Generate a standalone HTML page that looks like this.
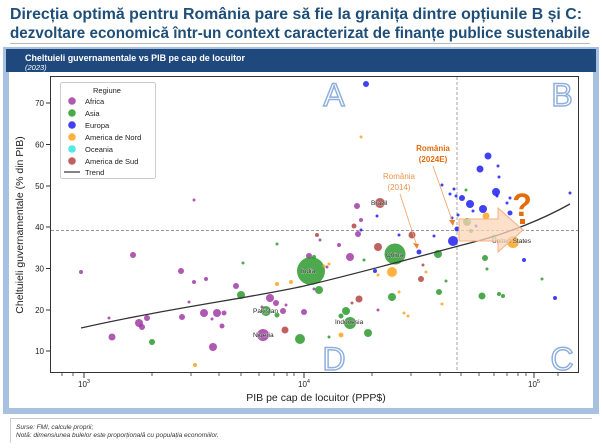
<!DOCTYPE html>
<html><head><meta charset="utf-8"><style>
body{margin:0;width:602px;height:443px;overflow:hidden;background:#fff;font-family:"Liberation Sans",sans-serif}
</style></head><body>
<svg width="602" height="443" xmlns="http://www.w3.org/2000/svg" font-family="Liberation Sans, sans-serif">
<text x="10" y="19" font-size="16" font-weight="bold" fill="#1f4e79" textLength="572" lengthAdjust="spacingAndGlyphs">Direcția optimă pentru România pare să fie la granița dintre opțiunile B și C:</text>
<text x="10" y="38" font-size="16" font-weight="bold" fill="#1f4e79" textLength="580" lengthAdjust="spacingAndGlyphs">dezvoltare economică într-un context caracterizat de finanțe publice sustenabile</text>
<line x1="10" y1="43.5" x2="590" y2="43.5" stroke="#bbb" stroke-width="1"/>
<rect x="3" y="47" width="596" height="367" fill="#a9c1e0"/>
<rect x="9" y="72" width="584" height="336" fill="#fff"/>
<rect x="6" y="49" width="590" height="23" fill="#1f497d"/>
<text x="25" y="61" font-size="9.5" font-weight="bold" fill="#fff" textLength="220" lengthAdjust="spacingAndGlyphs">Cheltuieli guvernamentale vs PIB pe cap de locuitor</text>
<text x="25" y="70" font-size="7.5" font-style="italic" fill="#fff">(2023)</text>
<rect x="50.5" y="76.5" width="528" height="296" fill="none" stroke="#333" stroke-width="1"/>
<g stroke="#333" stroke-width="1">
<line x1="46" y1="103" x2="50" y2="103"/><line x1="46" y1="144.5" x2="50" y2="144.5"/><line x1="46" y1="186" x2="50" y2="186"/><line x1="46" y1="227" x2="50" y2="227"/><line x1="46" y1="268.5" x2="50" y2="268.5"/><line x1="46" y1="310" x2="50" y2="310"/><line x1="46" y1="351" x2="50" y2="351"/>
<line x1="84" y1="373" x2="84" y2="378"/><line x1="304" y1="373" x2="304" y2="378"/><line x1="534" y1="373" x2="534" y2="378"/>
</g>
<g stroke="#333" stroke-width="0.8">
<line x1="62" y1="373" x2="62" y2="376"/><line x1="73" y1="373" x2="73" y2="376"/>
<line x1="152" y1="373" x2="152" y2="376"/><line x1="191" y1="373" x2="191" y2="376"/><line x1="219" y1="373" x2="219" y2="376"/><line x1="241" y1="373" x2="241" y2="376"/><line x1="259" y1="373" x2="259" y2="376"/><line x1="274" y1="373" x2="274" y2="376"/><line x1="287" y1="373" x2="287" y2="376"/><line x1="294" y1="373" x2="294" y2="376"/>
<line x1="372" y1="373" x2="372" y2="376"/><line x1="411" y1="373" x2="411" y2="376"/><line x1="440" y1="373" x2="440" y2="376"/><line x1="461" y1="373" x2="461" y2="376"/><line x1="479" y1="373" x2="479" y2="376"/><line x1="494" y1="373" x2="494" y2="376"/><line x1="507" y1="373" x2="507" y2="376"/><line x1="518" y1="373" x2="518" y2="376"/><line x1="526" y1="373" x2="526" y2="376"/>
<line x1="558" y1="373" x2="558" y2="376"/>
</g>
<g font-size="8" fill="#222" text-anchor="end">
<text x="44" y="106">70</text><text x="44" y="147.5">60</text><text x="44" y="189">50</text><text x="44" y="230">40</text><text x="44" y="271.5">30</text><text x="44" y="313">20</text><text x="44" y="354">10</text>
</g>
<g font-size="8" fill="#222" text-anchor="middle">
<text x="84" y="387">10<tspan dy="-4" font-size="5.5">3</tspan></text>
<text x="304" y="387">10<tspan dy="-4" font-size="5.5">4</tspan></text>
<text x="534" y="387">10<tspan dy="-4" font-size="5.5">5</tspan></text>
</g>
<text x="316" y="401" font-size="10.5" fill="#222" text-anchor="middle">PIB pe cap de locuitor (PPP$)</text>
<text transform="translate(23,225) rotate(-90)" font-size="10.5" fill="#222" text-anchor="middle">Cheltuieli guvernamentale (% din PIB)</text>
<g font-size="32" fill="#fff" stroke="#8fb0dc" stroke-width="1.5" text-anchor="middle">
<text x="334" y="106">A</text><text x="562" y="106">B</text><text x="334" y="370">D</text><text x="562" y="370">C</text>
</g>
<line x1="457" y1="77" x2="457" y2="372" stroke="#999" stroke-dasharray="3,2" stroke-width="0.9"/>
<line x1="51" y1="230.5" x2="578" y2="230.5" stroke="#999" stroke-dasharray="3,2" stroke-width="0.9"/>
<g fill="#9b30a0" fill-opacity="0.8">
<circle cx="81" cy="272" r="2"/><circle cx="133" cy="255" r="3"/><circle cx="181" cy="271" r="3"/><circle cx="194" cy="282" r="2"/><circle cx="206" cy="279" r="2"/><circle cx="189" cy="302" r="1.5"/><circle cx="109" cy="318" r="1.5"/><circle cx="139" cy="323" r="4"/><circle cx="142" cy="327" r="3"/><circle cx="147" cy="318" r="3"/><circle cx="182" cy="317" r="3"/><circle cx="204" cy="313" r="4"/><circle cx="217" cy="313" r="4"/><circle cx="224" cy="313" r="2.5"/><circle cx="212" cy="319" r="1.5"/><circle cx="222" cy="326" r="2.5"/><circle cx="213" cy="347" r="4"/><circle cx="236" cy="286" r="3"/><circle cx="270" cy="298" r="4"/><circle cx="276" cy="303" r="3"/><circle cx="262" cy="307" r="1.5"/><circle cx="286" cy="305" r="1.5"/><circle cx="283" cy="311" r="3"/><circle cx="304" cy="312" r="3"/><circle cx="309" cy="256" r="3"/><circle cx="320" cy="240" r="1.5"/><circle cx="339" cy="245" r="2"/><circle cx="350" cy="257" r="4"/><circle cx="358" cy="234" r="3"/><circle cx="263" cy="335" r="6"/><circle cx="314" cy="289" r="1.5"/><circle cx="327" cy="267" r="1.5"/><circle cx="194" cy="200" r="1.5"/><circle cx="357" cy="206" r="3"/><circle cx="361" cy="220" r="2"/><circle cx="378" cy="310" r="1.5"/><circle cx="112" cy="337" r="3.5"/>
</g>
<g fill="#2e9a2e" fill-opacity="0.85">
<circle cx="311" cy="271" r="14"/><circle cx="395" cy="254" r="10.5"/><circle cx="266" cy="311" r="5"/><circle cx="350" cy="323" r="6"/><circle cx="300" cy="339" r="5"/><circle cx="152" cy="342" r="3"/><circle cx="241" cy="295" r="4"/><circle cx="319" cy="290" r="4"/><circle cx="346" cy="311" r="4"/><circle cx="341" cy="316" r="2.5"/><circle cx="277" cy="315" r="2.5"/><circle cx="277" cy="244" r="1.5"/><circle cx="243" cy="263" r="1.5"/><circle cx="314" cy="257" r="2"/><circle cx="438" cy="254" r="4"/><circle cx="364" cy="260" r="1.5"/><circle cx="392" cy="297" r="4"/><circle cx="368" cy="333" r="4"/><circle cx="446" cy="281" r="1.5"/><circle cx="439" cy="292" r="3"/><circle cx="485" cy="258" r="3"/><circle cx="487" cy="269" r="1.5"/><circle cx="482" cy="296" r="3.5"/><circle cx="499" cy="294" r="2"/><circle cx="503" cy="296" r="2"/><circle cx="542" cy="279" r="1.5"/><circle cx="467" cy="222" r="4"/><circle cx="471" cy="231" r="2"/><circle cx="329" cy="337" r="1.5"/><circle cx="466" cy="190" r="1.5"/>
</g>
<g fill="#2020ee" fill-opacity="0.85">
<circle cx="366" cy="84" r="3"/><circle cx="488" cy="156" r="3.5"/><circle cx="498" cy="166" r="1.5"/><circle cx="480" cy="169" r="3.5"/><circle cx="499" cy="177" r="1.5"/><circle cx="496" cy="192" r="4"/><circle cx="497" cy="196" r="1.5"/><circle cx="510" cy="198" r="1.5"/><circle cx="507" cy="203" r="1.5"/><circle cx="462" cy="198" r="3"/><circle cx="470" cy="204" r="4"/><circle cx="483" cy="209" r="4"/><circle cx="473" cy="211" r="1.5"/><circle cx="454" cy="189" r="1.5"/><circle cx="450" cy="194" r="1.5"/><circle cx="456" cy="196" r="1.5"/><circle cx="442" cy="185" r="1.5"/><circle cx="570" cy="193" r="1.5"/><circle cx="510" cy="213" r="2.5"/><circle cx="377" cy="216" r="1.5"/><circle cx="458" cy="215" r="1.5"/><circle cx="452" cy="218" r="1.5"/><circle cx="476" cy="226" r="1.5"/><circle cx="457" cy="229" r="2.5"/><circle cx="453" cy="241" r="5"/><circle cx="434" cy="236" r="1.5"/><circle cx="399" cy="235" r="1.5"/><circle cx="419" cy="252" r="2.5"/><circle cx="375" cy="271" r="2"/><circle cx="524" cy="260" r="2"/><circle cx="555" cy="298" r="2"/><circle cx="361" cy="230" r="1.5"/>
</g>
<g fill="#ffa51f" fill-opacity="0.85">
<circle cx="513" cy="242" r="6"/><circle cx="486" cy="216" r="3.5"/><circle cx="361" cy="137" r="1.5"/><circle cx="392" cy="272" r="5"/><circle cx="378" cy="275" r="1.5"/><circle cx="426" cy="272" r="1.5"/><circle cx="399" cy="292" r="1.5"/><circle cx="442" cy="304" r="1.5"/><circle cx="404" cy="313" r="1.5"/><circle cx="408" cy="316" r="1.5"/><circle cx="341" cy="335" r="2.5"/><circle cx="277" cy="284" r="2"/><circle cx="291" cy="282" r="2"/><circle cx="324" cy="266" r="1.5"/><circle cx="329" cy="264" r="1.5"/><circle cx="195" cy="365" r="2"/>
</g>
<g fill="#30e8e8" fill-opacity="0.85"><circle cx="494" cy="237" r="2.5"/><circle cx="469" cy="220" r="1.5"/></g>
<g fill="#b03a3a" fill-opacity="0.8">
<circle cx="380" cy="203" r="5"/><circle cx="354" cy="226" r="2.5"/><circle cx="412" cy="235" r="3.5"/><circle cx="378" cy="247" r="4"/><circle cx="423" cy="265" r="1.5"/><circle cx="421" cy="279" r="3"/><circle cx="359" cy="299" r="3.5"/><circle cx="352" cy="303" r="1.5"/><circle cx="317" cy="235" r="2"/><circle cx="285" cy="330" r="3.5"/>
</g>
<path d="M81,328 C170,308 250,298 304,286 C360,273 420,256 470,243 C510,233 545,218 570,204" fill="none" stroke="#333" stroke-width="1.3"/>
<g font-size="6.5" fill="#222" stroke="#fff" stroke-width="0.4" paint-order="stroke">
<text x="371" y="205">Brazil</text><text x="301" y="273">India</text><text x="386" y="257">China</text><text x="253" y="313">Pakistan</text><text x="253" y="337">Nigeria</text><text x="335" y="324">Indonesia</text><text x="492" y="243">United States</text>
</g>
<path d="M459,219 H498 V208 L523,230 L498,252 V241 H459 Z" fill="#fbd5b8" fill-opacity="0.75" stroke="#f4b183" stroke-width="1"/>
<text x="399" y="179" font-size="8" fill="#f0934a" text-anchor="middle">România</text>
<text x="399" y="190" font-size="8" fill="#f0934a" text-anchor="middle">(2014)</text>
<line x1="400" y1="194" x2="416" y2="243" stroke="#f0a060" stroke-width="0.8"/>
<path d="M413,243 L419,244 L417,249 Z" fill="#f08030"/>
<text x="433" y="151" font-size="8" font-weight="bold" fill="#e06c10" text-anchor="middle">România</text>
<text x="433" y="162" font-size="8" font-weight="bold" fill="#e06c10" text-anchor="middle">(2024E)</text>
<line x1="433" y1="166" x2="452" y2="220" stroke="#f0a060" stroke-width="0.8"/>
<path d="M449,220 L455,220 L453,226 Z" fill="#f08030"/>
<rect x="520" y="219" width="5" height="5" fill="#e46c0a"/>
<text x="522" y="216" font-size="32" font-weight="bold" fill="#e46c0a" text-anchor="middle">?</text>
<rect x="60.5" y="82.5" width="95" height="96" rx="2" fill="#fff" fill-opacity="0.9" stroke="#ccc"/>
<text x="107" y="93" font-size="7.5" fill="#222" text-anchor="middle">Regiune</text>
<g font-size="7.5" fill="#222">
<circle cx="72" cy="101" r="3.8" fill="#9b30a0" fill-opacity="0.8"/><text x="85" y="104">Africa</text>
<circle cx="72" cy="113" r="3.8" fill="#2e9a2e" fill-opacity="0.85"/><text x="85" y="116">Asia</text>
<circle cx="72" cy="125" r="3.8" fill="#2020ee" fill-opacity="0.85"/><text x="85" y="128">Europa</text>
<circle cx="72" cy="137" r="3.8" fill="#ffa51f" fill-opacity="0.85"/><text x="85" y="140">America de Nord</text>
<circle cx="72" cy="149" r="3.8" fill="#30e8e8" fill-opacity="0.85"/><text x="85" y="152">Oceania</text>
<circle cx="72" cy="161" r="3.8" fill="#b03a3a" fill-opacity="0.8"/><text x="85" y="164">America de Sud</text>
<line x1="64" y1="172" x2="80" y2="172" stroke="#333" stroke-width="1.2"/><text x="85" y="175">Trend</text>
</g>
<line x1="10" y1="418.5" x2="592" y2="418.5" stroke="#ccc"/>
<line x1="10.5" y1="419" x2="10.5" y2="443" stroke="#ccc"/>
<text x="16" y="429" font-size="6.5" font-style="italic" fill="#333">Surse: FMI, calcule proprii;</text>
<text x="16" y="437" font-size="6.5" font-style="italic" fill="#333">Notă: dimensiunea bulelor este proporțională cu populația economiilor.</text>
</svg>
</body></html>
